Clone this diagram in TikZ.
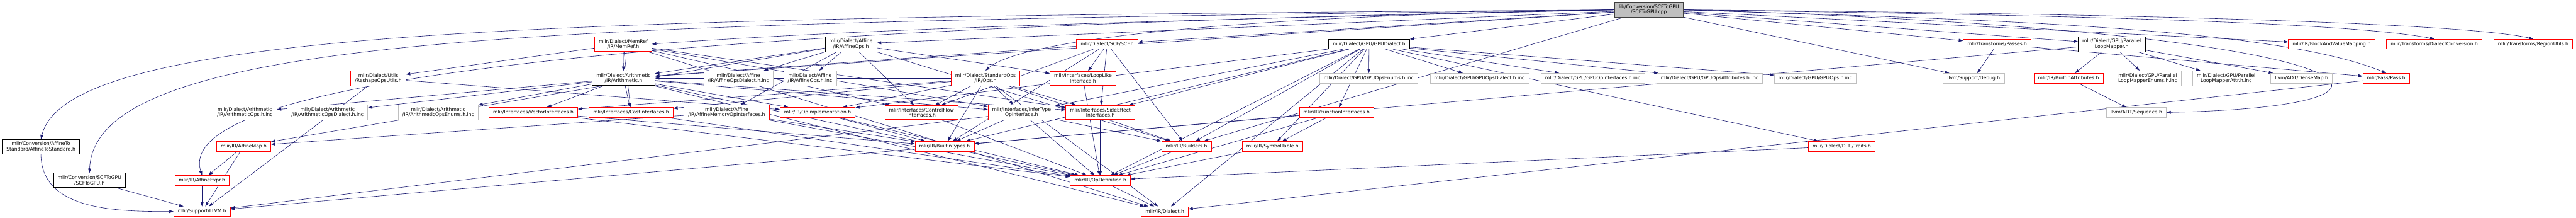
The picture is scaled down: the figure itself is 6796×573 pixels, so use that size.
\documentclass[tikz,border=0pt]{standalone}
\usepackage{fontspec}
\setmainfont{DejaVu Sans}
\usepackage{tikz}
\usetikzlibrary{arrows.meta,backgrounds}

\definecolor{edgeblue}{RGB}{25,25,112}
\definecolor{extgray}{RGB}{191,191,191}
\definecolor{rootgray}{RGB}{191,191,191}
\definecolor{truncred}{RGB}{255,0,0}

\begin{document}
\begin{tikzpicture}[
    x=0.75pt, y=-0.75pt,
    file/.style={rectangle, draw, fill=white, line width=0.8pt, align=center, inner xsep=8.25pt, inner ysep=5pt, minimum height=19.5pt, font=\fontsize{9.5}{10.5}\selectfont},
    rootfile/.style={file, fill=rootgray, draw=black!75},
    docfile/.style={file, draw=black},
    redfile/.style={file, draw=truncred},
    extfile/.style={file, draw=extgray},
    arrow/.style={-{Triangle[length=8.5pt,width=6pt]}, edgeblue, line width=0.75pt}
]
    \useasboundingbox (0,0) rectangle (6796,573);

    % Source file
    \node[rootfile] (root) at (4350,26) {lib/Conversion/SCFToGPU\\/SCFToGPU.cpp};

    % First level
    \node[redfile] (memref) at (1644,116) {mlir/Dialect/MemRef\\/IR/MemRef.h};
    \node[docfile] (affops) at (2245,116) {mlir/Dialect/Affine\\/IR/AffineOps.h};
    \node[redfile] (scf) at (2921,116) {mlir/Dialect/SCF/SCF.h};
    \node[docfile] (gpudia) at (3612,116) {mlir/Dialect/GPU/GPUDialect.h};
    \node[redfile] (passes) at (5269,116) {mlir/Transforms/Passes.h};
    \node[docfile] (plmapper) at (5571,116) {mlir/Dialect/GPU/Parallel\\LoopMapper.h};
    \node[redfile] (bvmap) at (6151,116) {mlir/IR/BlockAndValueMapping.h};
    \node[redfile] (dconv) at (6422,116) {mlir/Transforms/DialectConversion.h};
    \node[redfile] (regutils) at (6683,116) {mlir/Transforms/RegionUtils.h};

    % Second level
    \node[redfile] (reshape) at (998,206) {mlir/Dialect/Utils\\/ReshapeOpsUtils.h};
    \node[docfile] (arith) at (1645,206) {mlir/Dialect/Arithmetic\\/IR/Arithmetic.h};
    \node[extfile] (affdiainc) at (1948,206) {mlir/Dialect/Affine\\/IR/AffineOpsDialect.h.inc};
    \node[extfile] (affopsinc) at (2137,206) {mlir/Dialect/Affine\\/IR/AffineOps.h.inc};
    \node[redfile] (stdops) at (2600,206) {mlir/Dialect/StandardOps\\/IR/Ops.h};
    \node[redfile] (looplike) at (2857,206) {mlir/Interfaces/LoopLike\\Interface.h};
    \node[extfile] (gpuenums) at (3611,206) {mlir/Dialect/GPU/GPUOpsEnums.h.inc};
    \node[extfile] (gpudiainc) at (3903,206) {mlir/Dialect/GPU/GPUOpsDialect.h.inc};
    \node[extfile] (gpuifinc) at (4202,206) {mlir/Dialect/GPU/GPUOpInterfaces.h.inc};
    \node[extfile] (gpuattrinc) at (4510,206) {mlir/Dialect/GPU/GPUOpsAttributes.h.inc};
    \node[extfile] (gpuopsinc) at (4789,206) {mlir/Dialect/GPU/GPUOps.h.inc};
    \node[extfile] (debug) at (5207,206) {llvm/Support/Debug.h};
    \node[redfile] (battrs) at (5457,206) {mlir/IR/BuiltinAttributes.h};
    \node[extfile] (plmenums) at (5666,206) {mlir/Dialect/GPU/Parallel\\LoopMapperEnums.h.inc};
    \node[extfile] (plmattr) at (5873,206) {mlir/Dialect/GPU/Parallel\\LoopMapperAttr.h.inc};
    \node[extfile] (densemap) at (6072,206) {llvm/ADT/DenseMap.h};
    \node[redfile] (pass) at (6295,206) {mlir/Pass/Pass.h};

    % Third level
    \node[extfile] (arithopsinc) at (646,296) {mlir/Dialect/Arithmetic\\/IR/ArithmeticOps.h.inc};
    \node[extfile] (arithdiainc) at (864,296) {mlir/Dialect/Arithmetic\\/IR/ArithmeticOpsDialect.h.inc};
    \node[extfile] (arithenuminc) at (1156,296) {mlir/Dialect/Arithmetic\\/IR/ArithmeticOpsEnums.h.inc};
    \node[redfile] (vecif) at (1407,296) {mlir/Interfaces/VectorInterfaces.h};
    \node[redfile] (castif) at (1665,296) {mlir/Interfaces/CastInterfaces.h};
    \node[redfile] (affmemif) at (1917,296) {mlir/Dialect/Affine\\/IR/AffineMemoryOpInterfaces.h};
    \node[redfile] (opimpl) at (2157,296) {mlir/IR/OpImplementation.h};
    \node[redfile] (cfif) at (2431,296) {mlir/Interfaces/ControlFlow\\Interfaces.h};
    \node[redfile] (infertype) at (2695,296) {mlir/Interfaces/InferType\\OpInterface.h};
    \node[redfile] (sideeff) at (2903,296) {mlir/Interfaces/SideEffect\\Interfaces.h};
    \node[redfile] (funcif) at (3526,296) {mlir/IR/FunctionInterfaces.h};
    \node[extfile] (sequence) at (5636,296) {llvm/ADT/Sequence.h};

    % Fourth level
    \node[docfile] (a2s) at (108,386) {mlir/Conversion/AffineTo\\Standard/AffineToStandard.h};
    \node[redfile] (affmap) at (643,385) {mlir/IR/AffineMap.h};
    \node[redfile] (btypes) at (2492,385) {mlir/IR/BuiltinTypes.h};
    \node[redfile] (builders) at (3130,385) {mlir/IR/Builders.h};
    \node[redfile] (symtab) at (3357,385) {mlir/IR/SymbolTable.h};
    \node[redfile] (traits) at (4859,385) {mlir/Dialect/DLTI/Traits.h};

    % Bottom levels
    \node[docfile] (scfgpuh) at (236,475) {mlir/Conversion/SCFToGPU\\/SCFToGPU.h};
    \node[redfile] (affexpr) at (533,475) {mlir/IR/AffineExpr.h};
    \node[redfile] (opdef) at (2903,475) {mlir/IR/OpDefinition.h};
    \node[redfile] (llvmh) at (533,557) {mlir/Support/LLVM.h};
    \node[redfile] (dialect) at (3073,557) {mlir/IR/Dialect.h};

    \begin{scope}[on background layer]
    % Includes of the source file
    \draw[arrow] (root.west) .. controls (1500,45) and (180,70) .. (a2s.north);
    \draw[arrow] (root.west) .. controls (1500,60) and (250,80) .. (scfgpuh.north);
    \draw[arrow] (root.west) .. controls (1800,70) and (450,200) .. (affexpr.north);
    \draw[arrow] (root.west) .. controls (3000,55) and (2300,75) .. (memref.east);
    \draw[arrow] (root) -- (arith);
    \draw[arrow] (root) -- (affops);
    \draw[arrow] (root) -- (scf);
    \draw[arrow] (root) -- (gpudia);
    \draw[arrow] (root.west) .. controls (3300,40) and (2700,100) .. (stdops.north);
    \draw[arrow] (root) -- (builders);
    \draw[arrow] (root) -- (passes);
    \draw[arrow] (root) -- (debug);
    \draw[arrow] (root) -- (plmapper);
    \draw[arrow] (root) -- (bvmap);
    \draw[arrow] (root.east) .. controls (5500,40) and (6200,60) .. (dconv.north);
    \draw[arrow] (root.east) .. controls (5600,35) and (6500,60) .. (regutils.north);
    \draw[arrow] (root.east) .. controls (5200,50) and (6000,70) .. (pass.north);
    \draw[arrow] (root.east) .. controls (6300,80) and (6500,280) .. (sequence.east);

    % Conversion headers
    \draw[arrow] (a2s) to[out=270,in=180] (llvmh);
    \draw[arrow] (scfgpuh) -- (llvmh);

    % Affine expressions and maps
    \draw[arrow] (affexpr) -- (llvmh);
    \draw[arrow] (affmap) -- (affexpr);
    \draw[arrow] (affmap) -- (llvmh);

    % MemRef
    \draw[arrow] (memref) -- (arith);
    \draw[arrow] (memref) -- (reshape);
    \draw[arrow] (memref) -- (dialect);
    \draw[arrow] (memref) -- (castif);
    \draw[arrow] (memref) -- (cfif);
    \draw[arrow] (memref) -- (infertype);
    \draw[arrow] (memref) -- (sideeff);

    % Arithmetic
    \draw[arrow] (arith) -- (arithopsinc);
    \draw[arrow] (arith) -- (arithdiainc);
    \draw[arrow] (arith) -- (arithenuminc);
    \draw[arrow] (arith) -- (vecif);
    \draw[arrow] (arith) -- (castif);
    \draw[arrow] (arith) -- (opimpl);
    \draw[arrow] (arith) -- (opdef);
    \draw[arrow] (arith) -- (dialect);
    \draw[arrow] (arith) -- (infertype);
    \draw[arrow] (arith) -- (sideeff);

    % Affine ops
    \draw[arrow] (affops) -- (affdiainc);
    \draw[arrow] (affops) -- (affopsinc);
    \draw[arrow] (affops) -- (affmemif);
    \draw[arrow] (affops) -- (arith);
    \draw[arrow] (affops) -- (affmap);
    \draw[arrow] (affops) -- (builders);
    \draw[arrow] (affops) -- (cfif);
    \draw[arrow] (affops) -- (looplike);

    % SCF
    \draw[arrow] (scf) -- (arith);
    \draw[arrow] (scf) -- (builders);
    \draw[arrow] (scf) -- (btypes);
    \draw[arrow] (scf) -- (cfif);
    \draw[arrow] (scf) -- (looplike);
    \draw[arrow] (scf) -- (sideeff);

    % Standard ops
    \draw[arrow] (stdops) -- (arith);
    \draw[arrow] (stdops) -- (builders);
    \draw[arrow] (stdops) -- (btypes);
    \draw[arrow] (stdops) -- (dialect);
    \draw[arrow] (stdops) -- (opimpl);
    \draw[arrow] (stdops) -- (castif);
    \draw[arrow] (stdops) -- (cfif);
    \draw[arrow] (stdops) -- (infertype);
    \draw[arrow] (stdops) -- (sideeff);
    \draw[arrow] (stdops) -- (vecif);

    % Interfaces
    \draw[arrow] (looplike) -- (opdef);
    \draw[arrow] (cfif) -- (opdef);
    \draw[arrow] (sideeff) -- (opdef);
    \draw[arrow] (castif) -- (opdef);
    \draw[arrow] (vecif) -- (btypes);
    \draw[arrow] (vecif) -- (opdef);
    \draw[arrow] (infertype) -- (btypes);
    \draw[arrow] (infertype) -- (builders);
    \draw[arrow] (infertype) -- (opdef);
    \draw[arrow] (infertype) -- (llvmh);
    \draw[arrow] (affmemif) -- (affmap);
    \draw[arrow] (affmemif) -- (btypes);
    \draw[arrow] (affmemif) -- (opdef);
    \draw[arrow] (opimpl) -- (btypes);
    \draw[arrow] (opimpl) -- (opdef);
    \draw[arrow] (reshape) -- (opimpl);
    \draw[arrow] (reshape) -- (llvmh);
    \draw[arrow] (funcif) -- (btypes);
    \draw[arrow] (funcif) -- (opdef);
    \draw[arrow] (funcif) -- (symtab);

    % IR
    \draw[arrow] (builders) -- (opdef);
    \draw[arrow] (symtab) -- (opdef);
    \draw[arrow] (opdef) -- (dialect);

    % GPU dialect
    \draw[arrow] (gpudia) -- (gpuenums);
    \draw[arrow] (gpudia) -- (gpudiainc);
    \draw[arrow] (gpudia) -- (gpuifinc);
    \draw[arrow] (gpudia) -- (gpuattrinc);
    \draw[arrow] (gpudia) -- (gpuopsinc);
    \draw[arrow] (gpudia) -- (traits);
    \draw[arrow] (gpudia) -- (funcif);
    \draw[arrow] (gpudia) -- (builders);
    \draw[arrow] (gpudia) -- (btypes);
    \draw[arrow] (gpudia) -- (dialect);
    \draw[arrow] (gpudia) -- (opdef);
    \draw[arrow] (gpudia) -- (opimpl);
    \draw[arrow] (gpudia) -- (symtab);
    \draw[arrow] (gpudia) -- (infertype);
    \draw[arrow] (gpudia) -- (sideeff);
    \draw[arrow] (traits) -- (opdef);

    % Parallel loop mapper
    \draw[arrow] (plmapper) -- (battrs);
    \draw[arrow] (plmapper) -- (plmenums);
    \draw[arrow] (plmapper) -- (plmattr);
    \draw[arrow] (plmapper) -- (densemap);
    \draw[arrow] (plmapper) -- (llvmh);
    \draw[arrow] (battrs) -- (sequence);

    % Passes
    \draw[arrow] (passes) -- (pass);
    \draw[arrow] (passes) -- (debug);
    \draw[arrow] (pass) -- (dialect);
    \end{scope}
\end{tikzpicture}
\end{document}
